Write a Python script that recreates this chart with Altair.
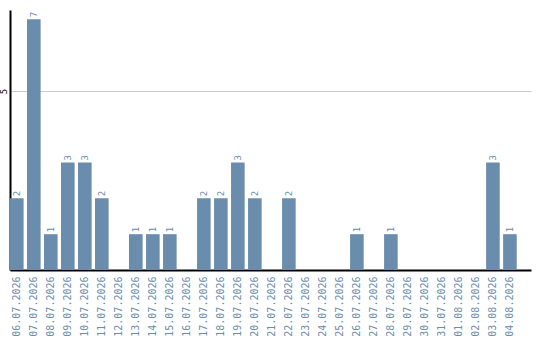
import altair as alt
import pandas as pd

dates = [
    "06.07.2026", "07.07.2026", "08.07.2026", "09.07.2026", "10.07.2026",
    "11.07.2026", "12.07.2026", "13.07.2026", "14.07.2026", "15.07.2026",
    "16.07.2026", "17.07.2026", "18.07.2026", "19.07.2026", "20.07.2026",
    "21.07.2026", "22.07.2026", "23.07.2026", "24.07.2026", "25.07.2026",
    "26.07.2026", "27.07.2026", "28.07.2026", "29.07.2026", "30.07.2026",
    "31.07.2026", "01.08.2026", "02.08.2026", "03.08.2026", "04.08.2026",
]
counts = [2, 7, 1, 3, 3, 2, 0, 1, 1, 1, 0, 2, 2, 3, 2, 0, 2, 0, 0, 0,
          1, 0, 1, 0, 0, 0, 0, 0, 3, 1]

df = pd.DataFrame({"date": dates, "count": counts})

BLUE = "#6a8cad"

x = alt.X(
    "date:N",
    sort=dates,
    scale=alt.Scale(paddingInner=0.2, paddingOuter=0.42, align=0),
    axis=alt.Axis(
        title=None, labelAngle=270, ticks=False, labelPadding=6,
        labelFont="DejaVu Sans Mono", labelFontSize=10, labelColor=BLUE,
        domainColor="black", domainWidth=2, labelOverlap=False,
    ),
)
y = alt.Y(
    "count:Q",
    scale=alt.Scale(domain=[0, 7.26], nice=False),
    axis=alt.Axis(
        title=None, values=[5], ticks=False, labelAngle=270,
        labelFont="DejaVu Sans Mono", labelFontSize=9, labelColor="black",
        labelPadding=2, labelAlign="center", labelBaseline="bottom",
        domainColor="black", domainWidth=2,
        grid=True, gridColor="#cccccc", gridWidth=1,
    ),
)

bars = alt.Chart(df).mark_bar(color=BLUE).encode(x=x, y=y)

labels = alt.Chart(df).transform_filter("datum.count > 0").mark_text(
    angle=270, align="left", baseline="middle", dx=2,
    font="DejaVu Sans Mono", fontSize=9, color=BLUE,
).encode(x=alt.X("date:N", sort=dates), y="count:Q", text="count:Q")

chart = (
    alt.layer(bars, labels)
    .properties(
        width=521, height=260,
        autosize=alt.AutoSizeParams(type="none"),
        padding={"left": 10, "top": 10, "right": 9, "bottom": 70},
    )
    .configure_view(stroke=None)
)

chart.save("out.html", embed_options={"renderer": "svg", "actions": False})
